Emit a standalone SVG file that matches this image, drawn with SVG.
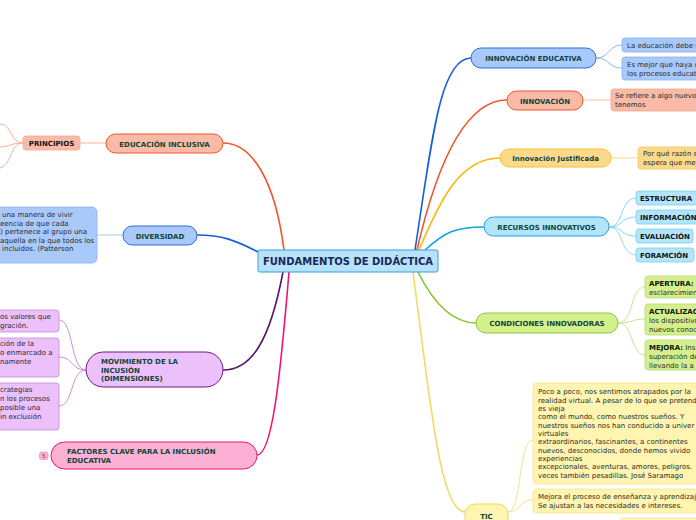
<svg xmlns="http://www.w3.org/2000/svg" width="696" height="520" viewBox="0 0 696 520">
<style>
text{font-family:"DejaVu Sans","Liberation Sans",sans-serif}
.pt{font-size:7px;font-weight:bold;fill:#0f4538}
.lt{font-size:7px;fill:#2a2a2a}
.lb{font-size:7px;font-weight:bold;fill:#111}
.c{fill:none;stroke-width:1.6}
.cl{fill:none;stroke-width:1}
</style>
<rect width="696" height="520" fill="#fff"/>
<g id="connectors">
<path class="c" stroke="#1560d8" d="M415,250 C432,140 440,58 471,58"/>
<path class="c" stroke="#f0552a" d="M417,250 C440,150 470,100 507,100"/>
<path class="c" stroke="#f8b810" d="M419,250 C440,200 460,158 500,158"/>
<path class="c" stroke="#14a2e2" d="M425,250 C445,232 455,227 484,227"/>
<path class="c" stroke="#84c428" d="M418,272 C432,300 450,323 476,323"/>
<path class="c" stroke="#f0dc60" d="M413,272 C430,400 440,512 465,512"/>
<path class="c" stroke="#f0552a" d="M284,250 C275,180 252,143 223,143"/>
<path class="c" stroke="#1560d8" d="M260,253 C235,240 222,235 197,235"/>
<path class="c" stroke="#5a126c" d="M283,272 C270,340 252,370 223,370"/>
<path class="c" stroke="#f0146e" d="M289,272 C280,380 272,455 257,455"/>
<path class="cl" stroke="#90b8f4" d="M596,58 C610,58 608,45 622,45 M596,58 C610,58 608,68 622,68"/>
<path class="cl" stroke="#f8c0b0" d="M583,100 L611,100"/>
<path class="cl" stroke="#fcd88a" d="M611,158 L638,158"/>
<path class="cl" stroke="#8ed6f4" d="M609,227 C624,227 620,198 636,198 M609,227 C624,227 620,217 636,217 M609,227 C624,227 620,236 636,236 M609,227 C624,227 620,255 636,255"/>
<path class="cl" stroke="#c4e890" d="M618,323 C634,323 630,287 645,287 M618,323 C634,323 630,319 645,319 M618,323 C634,323 630,355 645,355"/>
<path class="cl" stroke="#f4e48a" d="M508,512 C522,512 518,440 533,440 M508,512 C522,512 518,500 533,500"/>
<path class="cl" stroke="#f8b09a" d="M106,143 L80,143"/>
<path class="cl" stroke="#f8b09a" d="M23,143 C10,143 12,124 0,124 M23,143 C10,143 10,147 0,147 M23,143 C10,143 12,165 0,168"/>
<path class="cl" stroke="#a8c8f4" d="M123,235 L97,235"/>
<path class="cl" stroke="#c890d4" d="M86,370 C70,370 74,320 59,320 M86,370 C70,370 74,357 59,357 M86,370 C70,370 74,406 59,406"/>
</g>
<g id="center">
<rect x="258" y="250" width="180" height="22" rx="2" fill="#b6e2fa" stroke="#3a9ed9" stroke-width="1"/>
<text x="348" y="265" text-anchor="middle" font-size="10" font-weight="bold" fill="#1a2858">FUNDAMENTOS DE DIDÁCTICA</text>
</g>
<g id="innovacion-educativa">
<rect x="471" y="48" width="125" height="20" rx="10" fill="#a9c9fb" stroke="#2a6ee0"/>
<text class="pt" x="533.5" y="61" text-anchor="middle">INNOVACIÓN EDUCATIVA</text>
</g>
<g id="ie-1">
<rect x="622" y="38" width="80" height="14" rx="3" fill="#a9c9fb" stroke="#86b0f0" stroke-width="0.8"/>
<text class="lt" x="627" y="48">La educación debe s</text>
</g>
<g id="ie-2">
<rect x="622" y="57" width="80" height="23" rx="3" fill="#a9c9fb" stroke="#86b0f0" stroke-width="0.8"/>
<text class="lt" x="627" y="67">Es mejor que haya c</text>
<text class="lt" x="627" y="76">los procesos educat</text>
</g>
<g id="innovacion">
<rect x="507" y="91" width="76" height="19" rx="9.5" fill="#f9bba8" stroke="#f0552a"/>
<text class="pt" x="545" y="103.5" text-anchor="middle">INNOVACIÓN</text>
</g>
<g id="inn-1">
<rect x="611" y="89" width="90" height="22" rx="3" fill="#f9bba8" stroke="#f4a48c" stroke-width="0.8"/>
<text class="lt" x="615" y="98">Se refiere a algo nuevo</text>
<text class="lt" x="615" y="107">tenemos</text>
</g>
<g id="innovacion-justificada">
<rect x="500" y="149" width="111" height="18" rx="9" fill="#fdd98c" stroke="#f8c030"/>
<text class="pt" x="555.5" y="161" text-anchor="middle">Innovación Justificada</text>
</g>
<g id="ij-1">
<rect x="638" y="147" width="62" height="22" rx="3" fill="#fdd98c" stroke="#f8c860" stroke-width="0.8"/>
<text class="lt" x="643" y="156">Por qué razón s</text>
<text class="lt" x="643" y="165">espera que mej</text>
</g>
<g id="recursos">
<rect x="484" y="217" width="125" height="19" rx="9.5" fill="#b3e5fa" stroke="#1ea2e0"/>
<text class="pt" x="546.5" y="229.5" text-anchor="middle">RECURSOS INNOVATIVOS</text>
</g>
<g id="estructura">
<rect x="636" y="191" width="61" height="14" rx="3" fill="#b3e5fa" stroke="#7ccef0" stroke-width="0.8"/>
<text class="lb" x="640" y="201">ESTRUCTURA</text>
</g>
<g id="informacion">
<rect x="636" y="210" width="65" height="14" rx="3" fill="#b3e5fa" stroke="#7ccef0" stroke-width="0.8"/>
<text class="lb" x="640" y="220">INFORMACIÓN</text>
</g>
<g id="evaluacion">
<rect x="636" y="229" width="57" height="14" rx="3" fill="#b3e5fa" stroke="#7ccef0" stroke-width="0.8"/>
<text class="lb" x="640" y="239">EVALUACIÓN</text>
</g>
<g id="formacion">
<rect x="636" y="248" width="58" height="14" rx="3" fill="#b3e5fa" stroke="#7ccef0" stroke-width="0.8"/>
<text class="lb" x="640" y="258">FORAMCIÓN</text>
</g>
<g id="condiciones">
<rect x="476" y="313" width="142" height="20" rx="10" fill="#d4f08c" stroke="#8cc43c"/>
<text class="pt" x="547" y="326" text-anchor="middle">CONDICIONES INNOVADORAS</text>
</g>
<g id="apertura">
<rect x="645" y="276" width="60" height="22" rx="3" fill="#d4f08c" stroke="#b4dc70" stroke-width="0.8"/>
<text class="lb" x="649" y="286">APERTURA:</text>
<text class="lt" x="649" y="295">esclarecimien</text>
</g>
<g id="actualizacion">
<rect x="645" y="304" width="60" height="31" rx="3" fill="#d4f08c" stroke="#b4dc70" stroke-width="0.8"/>
<text class="lb" x="649" y="314">ACTUALIZAC</text>
<text class="lt" x="649" y="323">los dispositivo</text>
<text class="lt" x="649" y="332">nuevos conoc</text>
</g>
<g id="mejora">
<rect x="645" y="340" width="60" height="30" rx="3" fill="#d4f08c" stroke="#b4dc70" stroke-width="0.8"/>
<text class="lt" x="649" y="350"><tspan font-weight="bold" fill="#111">MEJORA:</tspan> Ins</text>
<text class="lt" x="649" y="359">superación de</text>
<text class="lt" x="649" y="368">llevando la a</text>
</g>
<g id="tic">
<rect x="465" y="504" width="43" height="24" rx="10" fill="#fff5b0" stroke="#f0da50"/>
<text class="pt" x="486.5" y="519" text-anchor="middle" font-size="8">TIC</text>
</g>
<g id="tic-1">
<rect x="533" y="383" width="170" height="101" rx="4" fill="#fff5b0" stroke="#f4e48a" stroke-width="0.8"/>
<text class="lt" font-size="6.6">
<tspan x="538" y="394">Poco a poco, nos sentimos atrapados por la</tspan>
<tspan x="538" y="402.5">realidad virtual. A pesar de lo que se pretend</tspan>
<tspan x="538" y="411">es vieja</tspan>
<tspan x="538" y="419">como el mundo, como nuestros sueños. Y</tspan>
<tspan x="538" y="427.5">nuestros sueños nos han conducido a univer</tspan>
<tspan x="538" y="436">virtuales</tspan>
<tspan x="538" y="444">extraordinarios, fascinantes, a continentes</tspan>
<tspan x="538" y="452.5">nuevos, desconocidos, donde hemos vivido</tspan>
<tspan x="538" y="461">experiencias</tspan>
<tspan x="538" y="469">excepcionales, aventuras, amores, peligros.</tspan>
<tspan x="538" y="477.5">veces también pesadillas. José Saramago</tspan>
</text>
</g>
<g id="tic-2">
<rect x="533" y="489" width="170" height="24" rx="4" fill="#fff5b0" stroke="#f4e48a" stroke-width="0.8"/>
<text class="lt" font-size="6.6"><tspan x="538" y="498.5">Mejora el proceso de enseñanza y aprendizaj</tspan><tspan x="538" y="507.5">Se ajustan a las necesidades e intereses.</tspan></text>
</g>
<g id="tic-3">
<rect x="620" y="518" width="90" height="12" rx="3" fill="#fff5b0" stroke="#f4e48a" stroke-width="0.8"/>
</g>
<g id="educacion-inclusiva">
<rect x="106" y="134" width="117" height="19" rx="9.5" fill="#f9bba8" stroke="#f0552a"/>
<text class="pt" x="164.5" y="146.5" text-anchor="middle">EDUCACIÓN INCLUSIVA</text>
</g>
<g id="principios">
<rect x="23" y="136" width="57" height="14" rx="3" fill="#f9bba8" stroke="#f8a890" stroke-width="0.8"/>
<text class="lb" x="51.5" y="146" text-anchor="middle">PRINCIPIOS</text>
</g>
<g id="diversidad">
<rect x="123" y="226" width="74" height="19" rx="9.5" fill="#a9c9fb" stroke="#2a6ee0"/>
<text class="pt" x="160" y="238.5" text-anchor="middle">DIVERSIDAD</text>
</g>
<g id="div-1">
<rect x="-10" y="207" width="107" height="56" rx="5" fill="#a9c9fb" stroke="#86b0f0" stroke-width="0.8"/>
<text class="lt"><tspan x="2" y="217">una manera de vivir</tspan><tspan x="0" y="225.5">eencia de que cada</tspan><tspan x="0" y="234">) pertenece al grupo una</tspan><tspan x="0" y="242.5">aquella en la que todos los</tspan><tspan x="2" y="251">incluidos. (Patterson</tspan></text>
</g>
<g id="movimiento">
<rect x="86" y="352" width="137" height="35" rx="17.5" fill="#ecc0fa" stroke="#6a1a80"/>
<text class="pt"><tspan x="101" y="364">MOVIMIENTO DE LA</tspan><tspan x="101" y="372.5">INCUSIÓN</tspan><tspan x="101" y="381">(DIMENSIONES)</tspan></text>
</g>
<g id="mov-1">
<rect x="-10" y="310" width="69" height="22" rx="3" fill="#ecc0fa" stroke="#c88cd8" stroke-width="0.8"/>
<text class="lt"><tspan x="0" y="319">os valores que</tspan><tspan x="0" y="327.5">gración.</tspan></text>
</g>
<g id="mov-2">
<rect x="-10" y="338" width="69" height="39" rx="3" fill="#ecc0fa" stroke="#c88cd8" stroke-width="0.8"/>
<text class="lt"><tspan x="0" y="346">ción de la</tspan><tspan x="0" y="355">o enmarcado a</tspan><tspan x="0" y="364">namente</tspan></text>
</g>
<g id="mov-3">
<rect x="-10" y="383" width="69" height="47" rx="3" fill="#ecc0fa" stroke="#c88cd8" stroke-width="0.8"/>
<text class="lt"><tspan x="0" y="392">crategias</tspan><tspan x="0" y="401">n los procesos</tspan><tspan x="0" y="410">posible una</tspan><tspan x="0" y="419">in exclusión</tspan></text>
</g>
<g id="factores">
<rect x="51" y="442" width="206" height="27" rx="13.5" fill="#fcb0d4" stroke="#f0146e"/>
<text class="pt"><tspan x="67" y="454">FACTORES CLAVE PARA LA INCLUSIÓN</tspan><tspan x="67" y="462.5">EDUCATIVA</tspan></text>
</g>
<g id="badge">
<rect x="39.5" y="452" width="8.5" height="7.5" rx="2" fill="#fcb0d4" stroke="#f080b4" stroke-width="0.6"/>
<text x="43.75" y="458" text-anchor="middle" font-size="5" fill="#333">5</text>
</g>
</svg>
